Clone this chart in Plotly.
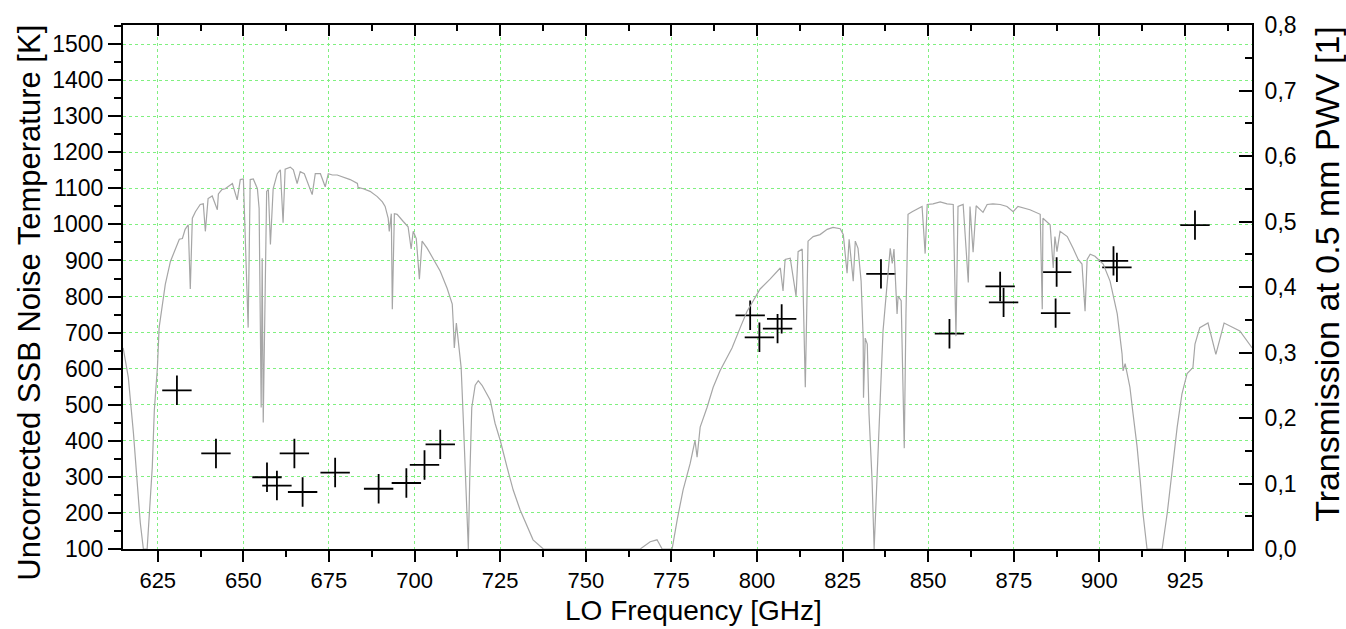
import plotly.graph_objects as go

# ---- Measured noise temperatures (LO frequency in GHz, Tssb in K) ----
lo_freq = [630.6, 642.0, 656.9, 659.8, 664.9, 667.3, 676.8, 689.5, 697.6, 702.9, 707.5,
           798.0, 800.7, 806.0, 807.2,
           836.2, 856.2, 871.0, 872.0, 887.5, 887.2, 904.1, 905.1, 927.9]
t_ssb = [540, 365, 299, 276, 365, 258, 312, 267, 283, 333, 390,
         748, 687, 711, 738,
         863, 697, 828, 784, 868, 754, 899, 881, 998]

# ---- Atmospheric transmission at 0.5 mm PWV ----
atm_freq = [614.9, 616.4, 617.9, 619.0, 619.9, 620.8, 621.9, 622.2, 623.4, 624.0, 624.9,
            625.4, 626.3, 627.2, 628.7, 630.1, 631.3, 632.2, 633.0, 633.9, 634.5, 635.1,
            636.0, 637.4, 638.3, 638.9, 639.7, 640.9, 642.4, 642.7, 643.8, 644.7, 645.6,
            646.8, 648.2, 649.1, 650.0, 651.4, 652.0, 652.9, 654.1, 654.6, 655.2, 655.5,
            655.8, 656.8, 657.3, 657.9, 658.7, 659.9, 660.8, 661.6, 662.2, 663.7, 664.6,
            665.7, 666.6, 667.8, 670.1, 671.0, 672.5, 673.9, 674.8, 676.0, 677.4, 679.2,
            681.2, 683.3, 683.5, 685.0, 687.0, 689.1, 690.6, 691.4, 692.3, 692.6, 693.2,
            693.5, 694.1, 694.9, 695.8, 696.7, 698.1, 699.0, 699.6, 700.5, 701.4, 702.2,
            703.7, 705.4, 707.5, 709.5, 711.0, 711.3, 711.6, 712.2, 712.7, 713.6, 714.2,
            714.8, 715.4, 715.7, 716.1, 716.7, 717.7, 718.6, 719.7, 720.6, 722.1, 723.5,
            725.0, 727.0, 728.8, 730.8, 732.9, 734.6, 737.6, 765.9, 768.8, 770.8, 772.3,
            775.2, 776.7, 778.4, 780.5, 781.9, 782.5, 783.4, 785.4, 787.2, 789.2, 791.3,
            792.7, 795.1, 797.1, 798.9, 800.9, 803.8, 806.8, 807.6, 808.2, 809.7, 811.4,
            812.0, 813.2, 814.1, 814.9, 816.4, 818.4, 820.5, 822.2, 824.3, 825.2, 826.3,
            826.9, 828.1, 828.7, 829.5, 830.4, 831.0, 831.1, 831.6, 832.2, 832.7, 833.6,
            834.2, 835.1, 836.0, 836.8, 838.0, 838.9, 839.5, 840.0, 840.9, 841.2, 842.1,
            843.0, 843.5, 844.1, 845.3, 847.0, 848.2, 849.1, 849.7, 851.4, 853.5, 855.5,
            857.3, 858.1, 858.7, 860.2, 861.7, 862.2, 863.1, 864.0, 866.0, 867.2, 868.9,
            871.0, 873.0, 874.8, 876.2, 879.7, 882.7, 883.3, 883.5, 885.6, 886.5, 887.0,
            887.6, 888.5, 890.6, 892.3, 893.8, 894.9, 895.8, 896.4, 897.3, 898.7, 901.1,
            903.1, 905.2, 906.6, 906.9, 907.5, 908.9, 909.8, 911.0, 911.9, 912.7, 913.9,
            918.3, 919.8, 921.2, 922.7, 924.1, 925.6, 927.3, 927.9, 929.3, 931.7, 934.0,
            936.4, 941.0, 944.6]
atm_trans = [0.307, 0.262, 0.177, 0.101, 0.040, 0.0, 0.0, 0.025, 0.125, 0.212, 0.277,
             0.338, 0.374, 0.404, 0.439, 0.458, 0.473, 0.474, 0.488, 0.495, 0.397, 0.505,
             0.515, 0.526, 0.527, 0.485, 0.535, 0.539, 0.518, 0.542, 0.549, 0.550, 0.553,
             0.558, 0.533, 0.564, 0.565, 0.338, 0.564, 0.565, 0.550, 0.520, 0.216, 0.444,
             0.193, 0.546, 0.549, 0.465, 0.550, 0.573, 0.579, 0.498, 0.580, 0.583, 0.579,
             0.558, 0.576, 0.573, 0.541, 0.573, 0.573, 0.553, 0.573, 0.571, 0.571, 0.568,
             0.564, 0.558, 0.552, 0.550, 0.546, 0.538, 0.530, 0.523, 0.505, 0.485, 0.512,
             0.366, 0.512, 0.511, 0.505, 0.500, 0.492, 0.458, 0.485, 0.474, 0.412, 0.470,
             0.459, 0.444, 0.424, 0.398, 0.374, 0.344, 0.307, 0.345, 0.322, 0.277, 0.201,
             0.125, 0.049, 0.0, 0.105, 0.216, 0.250, 0.257, 0.250, 0.242, 0.227, 0.192,
             0.166, 0.125, 0.090, 0.060, 0.034, 0.014, 0.0, 0.0, 0.011, 0.014, 0.0,
             0.0, 0.045, 0.090, 0.131, 0.166, 0.140, 0.186, 0.216, 0.247, 0.272, 0.292,
             0.307, 0.338, 0.363, 0.379, 0.397, 0.412, 0.429, 0.394, 0.442, 0.444, 0.386,
             0.454, 0.458, 0.247, 0.470, 0.477, 0.480, 0.488, 0.491, 0.489, 0.480, 0.421,
             0.473, 0.409, 0.470, 0.459, 0.409, 0.322, 0.231, 0.322, 0.313, 0.207, 0.105,
             0.0, 0.105, 0.231, 0.333, 0.409, 0.459, 0.436, 0.458, 0.359, 0.386, 0.379,
             0.154, 0.359, 0.511, 0.515, 0.520, 0.523, 0.451, 0.526, 0.527, 0.530, 0.527,
             0.526, 0.325, 0.523, 0.526, 0.407, 0.523, 0.453, 0.524, 0.514, 0.526, 0.527,
             0.526, 0.523, 0.515, 0.523, 0.518, 0.511, 0.366, 0.505, 0.495, 0.429, 0.477,
             0.454, 0.485, 0.477, 0.459, 0.442, 0.435, 0.363, 0.442, 0.450, 0.447, 0.435,
             0.409, 0.359, 0.298, 0.272, 0.283, 0.247, 0.207, 0.156, 0.105, 0.055, 0.0,
             0.0, 0.055, 0.116, 0.186, 0.237, 0.268, 0.277, 0.313, 0.338, 0.345, 0.297,
             0.345, 0.333, 0.307]

x_ticks = list(range(625, 926, 25))
y_ticks = list(range(100, 1501, 100))
y2_ticks = [0.0, 0.1, 0.2, 0.3, 0.4, 0.5, 0.6, 0.7, 0.8]
y2_labels = ["0,0", "0,1", "0,2", "0,3", "0,4", "0,5", "0,6", "0,7", "0,8"]

FONT = "Liberation Sans, Arial, sans-serif"
GRID = "#80f080"
X_RANGE = [614.85, 944.55]
Y_RANGE = [100, 1553]
Y2_RANGE = [0, 0.8]
TICK_FONT = dict(family=FONT, size=23, color="black")
XTICK_FONT = dict(family=FONT, size=22, color="black")

fig = go.Figure()
# crosses on the base subplot (x, y)
fig.add_trace(go.Scatter(x=lo_freq, y=t_ssb, mode="markers", xaxis="x", yaxis="y",
                         marker=dict(symbol="cross-thin", size=21,
                                     line=dict(color="black", width=1.8)),
                         showlegend=False))
# transmission curve on the right axis
fig.add_trace(go.Scatter(x=atm_freq, y=atm_trans, mode="lines", xaxis="x", yaxis="y2",
                         line=dict(color="#a6a6a6", width=1.2), showlegend=False,
                         hoverinfo="skip"))
# empty trace so that the top (tick-only) axis is created
fig.add_trace(go.Scatter(x=[], y=[], mode="markers", xaxis="x2", yaxis="y2",
                         showlegend=False, hoverinfo="skip"))

fig.update_layout(
    width=1346, height=629,
    margin=dict(l=123, r=94, t=18, b=80),
    paper_bgcolor="white", plot_bgcolor="white",
    font=dict(family=FONT, color="black", size=22),
    xaxis=dict(range=X_RANGE, tickmode="array", tickvals=x_ticks,
               ticks="outside", ticklen=11, tickwidth=2, tickcolor="black",
               tickfont=XTICK_FONT,
               showline=True, linecolor="black", linewidth=2, zeroline=False,
               minor=dict(tickmode="linear", tick0=612.5, dtick=12.5, ticks="outside",
                          ticklen=6, tickwidth=2, tickcolor="black", showgrid=False),
               showgrid=True, gridcolor=GRID, griddash="dot", gridwidth=1),
    xaxis2=dict(range=X_RANGE, overlaying="x", side="top", anchor="y2",
                tickmode="array", tickvals=x_ticks, showticklabels=False,
                ticks="inside", ticklen=11, tickwidth=2, tickcolor="black",
                showline=True, linecolor="black", linewidth=2, zeroline=False,
                showgrid=False,
                minor=dict(tickmode="linear", tick0=612.5, dtick=12.5, ticks="inside",
                           ticklen=6, tickwidth=2, tickcolor="black", showgrid=False)),
    yaxis=dict(range=Y_RANGE, tickmode="array", tickvals=y_ticks,
               ticks="outside", ticklen=13, tickwidth=2, tickcolor="black",
               tickfont=TICK_FONT,
               showline=True, linecolor="black", linewidth=2, zeroline=False,
               minor=dict(tickmode="linear", tick0=50, dtick=50, ticks="outside",
                          ticklen=7, tickwidth=2, tickcolor="black", showgrid=False),
               showgrid=True, gridcolor=GRID, griddash="dot", gridwidth=1),
    yaxis2=dict(range=Y2_RANGE, overlaying="y", side="right", anchor="x",
                tickmode="array", tickvals=y2_ticks, ticktext=y2_labels,
                ticks="inside", ticklen=13, tickwidth=2, tickcolor="black",
                tickfont=TICK_FONT, ticklabelstandoff=6,
                showline=True, linecolor="black", linewidth=2, zeroline=False,
                showgrid=False,
                minor=dict(tickmode="linear", tick0=0.05, dtick=0.1, ticks="inside",
                           ticklen=7, tickwidth=2, tickcolor="black", showgrid=False)),
    annotations=[
        dict(text="LO Frequency [GHz]", xref="paper", yref="paper",
             x=0.505, y=-0.1165, xanchor="center", yanchor="middle", showarrow=False,
             font=dict(family=FONT, size=28, color="black")),
        dict(text="Uncorrected SSB Noise Temperature [K]", xref="paper", yref="paper",
             x=-0.0824, y=0.47, xanchor="center", yanchor="middle", showarrow=False,
             textangle=-90, font=dict(family=FONT, size=31, color="black")),
        dict(text="Transmission at 0.5 mm PWV [1]", xref="paper", yref="paper",
             x=1.0664, y=0.525, xanchor="center", yanchor="middle", showarrow=False,
             textangle=-90, font=dict(family=FONT, size=34, color="black")),
    ],
)

fig.write_html("out.html")
